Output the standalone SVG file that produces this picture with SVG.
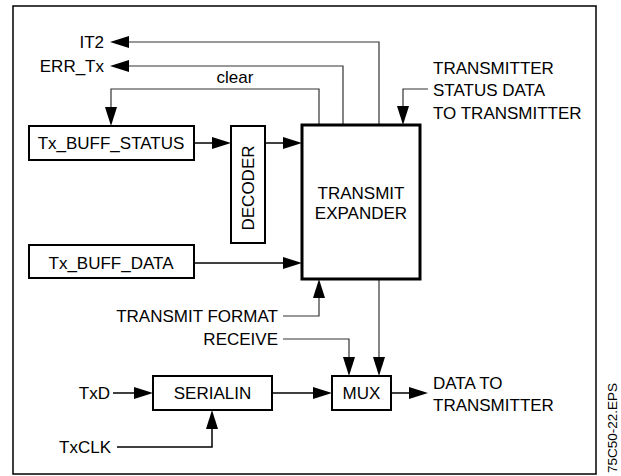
<svg xmlns="http://www.w3.org/2000/svg" width="621" height="476" viewBox="0 0 621 476">
<style>
text{font-family:"Liberation Sans",Arial,sans-serif;font-size:17px;fill:#000}
.box{fill:#fff;stroke:#000;stroke-width:2}
.thick{fill:#fff;stroke:#000;stroke-width:3}
.sig{fill:none;stroke:#333;stroke-width:1.2}
.dat{fill:none;stroke:#000;stroke-width:1.5}
.ah{fill:#000;stroke:none}
</style>
<rect x="13" y="6" width="583" height="468" fill="#fff" stroke="#000" stroke-width="1.5"/>
<g id="connectors">
<polyline class="sig" points="379,125 379,42 126,42"/>
<polygon class="ah" points="110,42 129,36 129,48"/>
<polyline class="sig" points="343,125 343,66 126,66"/>
<polygon class="ah" points="110,66 129,60 129,72"/>
<polyline class="sig" points="319,125 319,89 111,89 111,110"/>
<polygon class="ah" points="111,126 105,107 117,107"/>
<line class="dat" x1="194" y1="143" x2="215" y2="143"/>
<polygon class="ah" points="231,143 212,137 212,149"/>
<line class="dat" x1="265" y1="143" x2="286" y2="143"/>
<polygon class="ah" points="302,143 283,137 283,149"/>
<line class="dat" x1="194" y1="263" x2="286" y2="263"/>
<polygon class="ah" points="302,263 283,257 283,269"/>
<polyline class="sig" points="428,89 403,89 403,110"/>
<polygon class="ah" points="403,125 397,106 409,106"/>
<polyline class="sig" points="283,316 319,316 319,296"/>
<polygon class="ah" points="319,279 313,298 325,298"/>
<polyline class="sig" points="283,339 349,339 349,360"/>
<polygon class="ah" points="349,376 343,357 355,357"/>
<line class="sig" x1="379" y1="279" x2="379" y2="360"/>
<polygon class="ah" points="379,376 373,357 385,357"/>
<line class="dat" x1="113" y1="393" x2="138" y2="393"/>
<polygon class="ah" points="153,393 134,387 134,399"/>
<polyline class="dat" points="117,447 212,447 212,427"/>
<polygon class="ah" points="212,410 206,429 218,429"/>
<line class="dat" x1="272" y1="393" x2="316" y2="393"/>
<polygon class="ah" points="332,393 313,387 313,399"/>
<line class="dat" x1="391" y1="393" x2="412" y2="393"/>
<polygon class="ah" points="428,393 409,387 409,399"/>
</g>
<g id="tx_buff_status">
<rect class="box" x="29" y="126" width="165" height="34"/>
<text x="111" y="149" text-anchor="middle">Tx_BUFF_STATUS</text>
</g>
<g id="decoder">
<rect class="box" x="231" y="126" width="34" height="117"/>
<text transform="translate(254,188) rotate(-90)" text-anchor="middle">DECODER</text>
</g>
<g id="transmit_expander">
<rect class="thick" x="302" y="125" width="118" height="154"/>
<text x="361" y="199" text-anchor="middle">TRANSMIT</text>
<text x="361" y="219" text-anchor="middle">EXPANDER</text>
</g>
<g id="tx_buff_data">
<rect class="box" x="29" y="245" width="165" height="33"/>
<text x="111" y="269" text-anchor="middle">Tx_BUFF_DATA</text>
</g>
<g id="serialin">
<rect class="box" x="153" y="376" width="119" height="34"/>
<text x="212.5" y="399" text-anchor="middle">SERIALIN</text>
</g>
<g id="mux">
<rect class="box" x="332" y="376" width="59" height="34"/>
<text x="361.5" y="399" text-anchor="middle">MUX</text>
</g>
<g id="labels">
<text x="104" y="48" text-anchor="end">IT2</text>
<text x="104" y="72" text-anchor="end">ERR_Tx</text>
<text x="235" y="83" text-anchor="middle">clear</text>
<text x="433" y="74">TRANSMITTER</text>
<text x="433" y="96">STATUS DATA</text>
<text x="433" y="119">TO TRANSMITTER</text>
<text x="278" y="322" text-anchor="end">TRANSMIT FORMAT</text>
<text x="278" y="345" text-anchor="end">RECEIVE</text>
<text x="110" y="399" text-anchor="end">TxD</text>
<text x="111" y="453" text-anchor="end">TxCLK</text>
<text x="433" y="389">DATA TO</text>
<text x="433" y="411">TRANSMITTER</text>
<text transform="translate(617,428) rotate(-90)" text-anchor="middle" style="font-size:13.5px">75C50-22.EPS</text>
</g>
</svg>
